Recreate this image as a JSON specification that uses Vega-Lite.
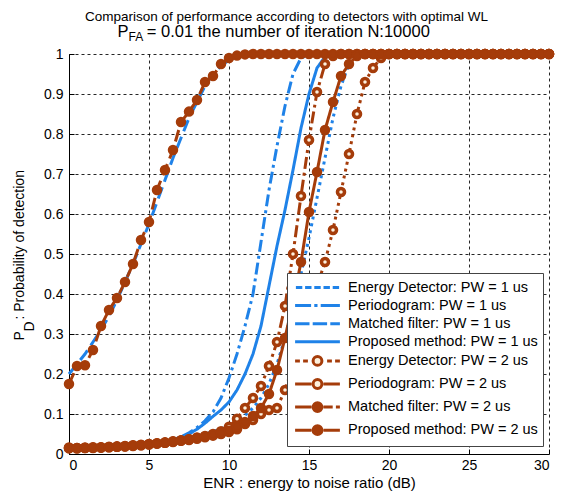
{
 "$schema": "https://vega.github.io/schema/vega-lite/v6.json",
 "width": 480, "height": 400,
 "autosize": {"type": "none"},
 "padding": {"left": 69, "top": 54, "right": 14, "bottom": 41},
 "background": "white",
 "config": {
  "font": "Liberation Sans",
  "view": {"stroke": null},
  "axis": {"domainColor": "#000", "tickColor": "#000", "labelColor": "#000", "titleColor": "#000", "labelFont": "Liberation Sans", "titleFont": "Liberation Sans", "labelFontSize": 14, "titleFontSize": 15, "titleFontWeight": "normal", "grid": true, "gridColor": "#000", "gridDash": [3, 3], "gridWidth": 1, "gridOpacity": 0.85, "tickSize": -5, "domainWidth": 1}
 },
 "title": {"text": "Comparison of performance according to detectors with optimal WL", "anchor": "start", "frame": "group", "dx": 16, "font": "Liberation Sans", "fontSize": 13.5, "fontWeight": "normal", "color": "#000", "offset": 0},
 "resolve": {"axis": {"x": "independent"}},
 "datasets": {"d": [
  {"s":"E1","x":0,"y":0.013},{"s":"E1","x":0.5,"y":0.013},{"s":"E1","x":1,"y":0.014},{"s":"E1","x":1.5,"y":0.014},{"s":"E1","x":2,"y":0.015},{"s":"E1","x":2.5,"y":0.016},{"s":"E1","x":3,"y":0.017},{"s":"E1","x":3.5,"y":0.018},{"s":"E1","x":4,"y":0.019},{"s":"E1","x":4.5,"y":0.021},{"s":"E1","x":5,"y":0.023},{"s":"E1","x":5.5,"y":0.026},{"s":"E1","x":6,"y":0.029},{"s":"E1","x":6.5,"y":0.032},{"s":"E1","x":7,"y":0.035},{"s":"E1","x":7.5,"y":0.039},{"s":"E1","x":8,"y":0.044},{"s":"E1","x":8.5,"y":0.05},{"s":"E1","x":9,"y":0.056},{"s":"E1","x":9.5,"y":0.063},{"s":"E1","x":10,"y":0.072},{"s":"E1","x":10.5,"y":0.083},{"s":"E1","x":11,"y":0.097},{"s":"E1","x":11.5,"y":0.115},{"s":"E1","x":12,"y":0.14},{"s":"E1","x":12.5,"y":0.175},{"s":"E1","x":13,"y":0.225},{"s":"E1","x":13.5,"y":0.29},{"s":"E1","x":14,"y":0.37},{"s":"E1","x":14.5,"y":0.45},{"s":"E1","x":15,"y":0.54},{"s":"E1","x":15.5,"y":0.64},{"s":"E1","x":16,"y":0.74},{"s":"E1","x":16.5,"y":0.84},{"s":"E1","x":17,"y":0.92},{"s":"E1","x":17.5,"y":0.975},{"s":"E1","x":18,"y":0.995},{"s":"E1","x":18.5,"y":1},{"s":"E1","x":30,"y":1},
  {"s":"P1","x":0,"y":0.013},{"s":"P1","x":0.5,"y":0.013},{"s":"P1","x":1,"y":0.014},{"s":"P1","x":1.5,"y":0.014},{"s":"P1","x":2,"y":0.015},{"s":"P1","x":2.5,"y":0.016},{"s":"P1","x":3,"y":0.017},{"s":"P1","x":3.5,"y":0.018},{"s":"P1","x":4,"y":0.019},{"s":"P1","x":4.5,"y":0.021},{"s":"P1","x":5,"y":0.023},{"s":"P1","x":5.5,"y":0.026},{"s":"P1","x":6,"y":0.029},{"s":"P1","x":6.5,"y":0.035},{"s":"P1","x":7,"y":0.043},{"s":"P1","x":7.5,"y":0.053},{"s":"P1","x":8,"y":0.066},{"s":"P1","x":8.5,"y":0.083},{"s":"P1","x":9,"y":0.105},{"s":"P1","x":9.5,"y":0.14},{"s":"P1","x":10,"y":0.19},{"s":"P1","x":10.5,"y":0.25},{"s":"P1","x":11,"y":0.32},{"s":"P1","x":11.5,"y":0.4},{"s":"P1","x":12,"y":0.53},{"s":"P1","x":12.5,"y":0.66},{"s":"P1","x":13,"y":0.77},{"s":"P1","x":13.5,"y":0.87},{"s":"P1","x":14,"y":0.95},{"s":"P1","x":14.5,"y":0.99},{"s":"P1","x":15,"y":0.998},{"s":"P1","x":15.5,"y":1},{"s":"P1","x":30,"y":1},
  {"s":"M1","x":0,"y":0.2},{"s":"M1","x":0.5,"y":0.225},{"s":"M1","x":1,"y":0.25},{"s":"M1","x":1.5,"y":0.28},{"s":"M1","x":2,"y":0.31},{"s":"M1","x":2.5,"y":0.345},{"s":"M1","x":3,"y":0.385},{"s":"M1","x":3.5,"y":0.43},{"s":"M1","x":4,"y":0.475},{"s":"M1","x":4.5,"y":0.525},{"s":"M1","x":5,"y":0.575},{"s":"M1","x":5.5,"y":0.63},{"s":"M1","x":6,"y":0.685},{"s":"M1","x":6.5,"y":0.74},{"s":"M1","x":7,"y":0.79},{"s":"M1","x":7.5,"y":0.84},{"s":"M1","x":8,"y":0.88},{"s":"M1","x":8.5,"y":0.92},{"s":"M1","x":9,"y":0.95},{"s":"M1","x":9.5,"y":0.97},{"s":"M1","x":10,"y":0.985},{"s":"M1","x":10.5,"y":0.993},{"s":"M1","x":11,"y":0.997},{"s":"M1","x":11.5,"y":1},{"s":"M1","x":30,"y":1},
  {"s":"R1","x":0,"y":0.013},{"s":"R1","x":0.5,"y":0.013},{"s":"R1","x":1,"y":0.014},{"s":"R1","x":1.5,"y":0.014},{"s":"R1","x":2,"y":0.015},{"s":"R1","x":2.5,"y":0.016},{"s":"R1","x":3,"y":0.017},{"s":"R1","x":3.5,"y":0.018},{"s":"R1","x":4,"y":0.019},{"s":"R1","x":4.5,"y":0.021},{"s":"R1","x":5,"y":0.023},{"s":"R1","x":5.5,"y":0.026},{"s":"R1","x":6,"y":0.029},{"s":"R1","x":6.5,"y":0.034},{"s":"R1","x":7,"y":0.041},{"s":"R1","x":7.5,"y":0.05},{"s":"R1","x":8,"y":0.062},{"s":"R1","x":8.5,"y":0.077},{"s":"R1","x":9,"y":0.094},{"s":"R1","x":9.5,"y":0.11},{"s":"R1","x":10,"y":0.13},{"s":"R1","x":10.5,"y":0.16},{"s":"R1","x":11,"y":0.2},{"s":"R1","x":11.5,"y":0.25},{"s":"R1","x":12,"y":0.32},{"s":"R1","x":12.5,"y":0.42},{"s":"R1","x":13,"y":0.52},{"s":"R1","x":13.5,"y":0.61},{"s":"R1","x":14,"y":0.71},{"s":"R1","x":14.5,"y":0.815},{"s":"R1","x":15,"y":0.9},{"s":"R1","x":15.5,"y":0.965},{"s":"R1","x":16,"y":0.993},{"s":"R1","x":16.5,"y":1},{"s":"R1","x":30,"y":1},
  {"s":"E2","x":0,"y":0.015},{"s":"E2","x":0.5,"y":0.014},{"s":"E2","x":1,"y":0.016},{"s":"E2","x":1.5,"y":0.015},{"s":"E2","x":2,"y":0.017},{"s":"E2","x":2.5,"y":0.017},{"s":"E2","x":3,"y":0.019},{"s":"E2","x":3.5,"y":0.019},{"s":"E2","x":4,"y":0.021},{"s":"E2","x":4.5,"y":0.022},{"s":"E2","x":5,"y":0.025},{"s":"E2","x":5.5,"y":0.026},{"s":"E2","x":6,"y":0.028},{"s":"E2","x":6.5,"y":0.03},{"s":"E2","x":7,"y":0.033},{"s":"E2","x":7.5,"y":0.035},{"s":"E2","x":8,"y":0.038},{"s":"E2","x":8.5,"y":0.042},{"s":"E2","x":9,"y":0.046},{"s":"E2","x":9.5,"y":0.05},{"s":"E2","x":10,"y":0.055},{"s":"E2","x":10.5,"y":0.062},{"s":"E2","x":11,"y":0.075},{"s":"E2","x":11.5,"y":0.085},{"s":"E2","x":12,"y":0.1},{"s":"E2","x":12.5,"y":0.11},{"s":"E2","x":13,"y":0.115},{"s":"E2","x":13.5,"y":0.16},{"s":"E2","x":14,"y":0.22},{"s":"E2","x":14.5,"y":0.29},{"s":"E2","x":15,"y":0.36},{"s":"E2","x":15.5,"y":0.42},{"s":"E2","x":16,"y":0.48},{"s":"E2","x":16.5,"y":0.56},{"s":"E2","x":17,"y":0.655},{"s":"E2","x":17.5,"y":0.75},{"s":"E2","x":18,"y":0.85},{"s":"E2","x":18.5,"y":0.93},{"s":"E2","x":19,"y":0.965},{"s":"E2","x":19.5,"y":0.99},{"s":"E2","x":20,"y":1},{"s":"E2","x":20.5,"y":1},{"s":"E2","x":21,"y":1},{"s":"E2","x":21.5,"y":1},{"s":"E2","x":22,"y":1},{"s":"E2","x":22.5,"y":1},{"s":"E2","x":23,"y":1},{"s":"E2","x":23.5,"y":1},{"s":"E2","x":24,"y":1},{"s":"E2","x":24.5,"y":1},{"s":"E2","x":25,"y":1},{"s":"E2","x":25.5,"y":1},{"s":"E2","x":26,"y":1},{"s":"E2","x":26.5,"y":1},{"s":"E2","x":27,"y":1},{"s":"E2","x":27.5,"y":1},{"s":"E2","x":28,"y":1},{"s":"E2","x":28.5,"y":1},{"s":"E2","x":29,"y":1},{"s":"E2","x":29.5,"y":1},{"s":"E2","x":30,"y":1},
  {"s":"P2","x":0,"y":0.016},{"s":"P2","x":0.5,"y":0.015},{"s":"P2","x":1,"y":0.015},{"s":"P2","x":1.5,"y":0.017},{"s":"P2","x":2,"y":0.016},{"s":"P2","x":2.5,"y":0.018},{"s":"P2","x":3,"y":0.018},{"s":"P2","x":3.5,"y":0.02},{"s":"P2","x":4,"y":0.022},{"s":"P2","x":4.5,"y":0.023},{"s":"P2","x":5,"y":0.024},{"s":"P2","x":5.5,"y":0.027},{"s":"P2","x":6,"y":0.029},{"s":"P2","x":6.5,"y":0.032},{"s":"P2","x":7,"y":0.034},{"s":"P2","x":7.5,"y":0.037},{"s":"P2","x":8,"y":0.041},{"s":"P2","x":8.5,"y":0.045},{"s":"P2","x":9,"y":0.05},{"s":"P2","x":9.5,"y":0.057},{"s":"P2","x":10,"y":0.068},{"s":"P2","x":10.5,"y":0.088},{"s":"P2","x":11,"y":0.115},{"s":"P2","x":11.5,"y":0.14},{"s":"P2","x":12,"y":0.17},{"s":"P2","x":12.5,"y":0.22},{"s":"P2","x":13,"y":0.28},{"s":"P2","x":13.5,"y":0.37},{"s":"P2","x":14,"y":0.5},{"s":"P2","x":14.5,"y":0.645},{"s":"P2","x":15,"y":0.785},{"s":"P2","x":15.5,"y":0.905},{"s":"P2","x":16,"y":0.975},{"s":"P2","x":16.5,"y":0.995},{"s":"P2","x":17,"y":1},{"s":"P2","x":17.5,"y":1},{"s":"P2","x":18,"y":1},{"s":"P2","x":18.5,"y":1},{"s":"P2","x":19,"y":1},{"s":"P2","x":19.5,"y":1},{"s":"P2","x":20,"y":1},{"s":"P2","x":20.5,"y":1},{"s":"P2","x":21,"y":1},{"s":"P2","x":21.5,"y":1},{"s":"P2","x":22,"y":1},{"s":"P2","x":22.5,"y":1},{"s":"P2","x":23,"y":1},{"s":"P2","x":23.5,"y":1},{"s":"P2","x":24,"y":1},{"s":"P2","x":24.5,"y":1},{"s":"P2","x":25,"y":1},{"s":"P2","x":25.5,"y":1},{"s":"P2","x":26,"y":1},{"s":"P2","x":26.5,"y":1},{"s":"P2","x":27,"y":1},{"s":"P2","x":27.5,"y":1},{"s":"P2","x":28,"y":1},{"s":"P2","x":28.5,"y":1},{"s":"P2","x":29,"y":1},{"s":"P2","x":29.5,"y":1},{"s":"P2","x":30,"y":1},
  {"s":"M2","x":0,"y":0.175},{"s":"M2","x":0.5,"y":0.22},{"s":"M2","x":1,"y":0.222},{"s":"M2","x":1.5,"y":0.26},{"s":"M2","x":2,"y":0.32},{"s":"M2","x":2.5,"y":0.36},{"s":"M2","x":3,"y":0.39},{"s":"M2","x":3.5,"y":0.43},{"s":"M2","x":4,"y":0.475},{"s":"M2","x":4.5,"y":0.535},{"s":"M2","x":5,"y":0.58},{"s":"M2","x":5.5,"y":0.66},{"s":"M2","x":6,"y":0.71},{"s":"M2","x":6.5,"y":0.76},{"s":"M2","x":7,"y":0.83},{"s":"M2","x":7.5,"y":0.856},{"s":"M2","x":8,"y":0.885},{"s":"M2","x":8.5,"y":0.93},{"s":"M2","x":9,"y":0.945},{"s":"M2","x":9.5,"y":0.975},{"s":"M2","x":10,"y":0.99},{"s":"M2","x":10.5,"y":0.996},{"s":"M2","x":11,"y":0.999},{"s":"M2","x":11.5,"y":1},{"s":"M2","x":12,"y":1},{"s":"M2","x":12.5,"y":1},{"s":"M2","x":13,"y":1},{"s":"M2","x":13.5,"y":1},{"s":"M2","x":14,"y":1},{"s":"M2","x":14.5,"y":1},{"s":"M2","x":15,"y":1},{"s":"M2","x":15.5,"y":1},{"s":"M2","x":16,"y":1},{"s":"M2","x":16.5,"y":1},{"s":"M2","x":17,"y":1},{"s":"M2","x":17.5,"y":1},{"s":"M2","x":18,"y":1},{"s":"M2","x":18.5,"y":1},{"s":"M2","x":19,"y":1},{"s":"M2","x":19.5,"y":1},{"s":"M2","x":20,"y":1},{"s":"M2","x":20.5,"y":1},{"s":"M2","x":21,"y":1},{"s":"M2","x":21.5,"y":1},{"s":"M2","x":22,"y":1},{"s":"M2","x":22.5,"y":1},{"s":"M2","x":23,"y":1},{"s":"M2","x":23.5,"y":1},{"s":"M2","x":24,"y":1},{"s":"M2","x":24.5,"y":1},{"s":"M2","x":25,"y":1},{"s":"M2","x":25.5,"y":1},{"s":"M2","x":26,"y":1},{"s":"M2","x":26.5,"y":1},{"s":"M2","x":27,"y":1},{"s":"M2","x":27.5,"y":1},{"s":"M2","x":28,"y":1},{"s":"M2","x":28.5,"y":1},{"s":"M2","x":29,"y":1},{"s":"M2","x":29.5,"y":1},{"s":"M2","x":30,"y":1},
  {"s":"R2","x":0,"y":0.014},{"s":"R2","x":0.5,"y":0.015},{"s":"R2","x":1,"y":0.015},{"s":"R2","x":1.5,"y":0.016},{"s":"R2","x":2,"y":0.016},{"s":"R2","x":2.5,"y":0.017},{"s":"R2","x":3,"y":0.018},{"s":"R2","x":3.5,"y":0.019},{"s":"R2","x":4,"y":0.02},{"s":"R2","x":4.5,"y":0.022},{"s":"R2","x":5,"y":0.024},{"s":"R2","x":5.5,"y":0.026},{"s":"R2","x":6,"y":0.028},{"s":"R2","x":6.5,"y":0.031},{"s":"R2","x":7,"y":0.034},{"s":"R2","x":7.5,"y":0.037},{"s":"R2","x":8,"y":0.04},{"s":"R2","x":8.5,"y":0.044},{"s":"R2","x":9,"y":0.048},{"s":"R2","x":9.5,"y":0.052},{"s":"R2","x":10,"y":0.058},{"s":"R2","x":10.5,"y":0.068},{"s":"R2","x":11,"y":0.08},{"s":"R2","x":11.5,"y":0.095},{"s":"R2","x":12,"y":0.115},{"s":"R2","x":12.5,"y":0.15},{"s":"R2","x":13,"y":0.21},{"s":"R2","x":13.5,"y":0.29},{"s":"R2","x":14,"y":0.38},{"s":"R2","x":14.5,"y":0.48},{"s":"R2","x":15,"y":0.605},{"s":"R2","x":15.5,"y":0.705},{"s":"R2","x":16,"y":0.81},{"s":"R2","x":16.5,"y":0.88},{"s":"R2","x":17,"y":0.945},{"s":"R2","x":17.5,"y":0.975},{"s":"R2","x":18,"y":0.995},{"s":"R2","x":18.5,"y":1},{"s":"R2","x":19,"y":1},{"s":"R2","x":19.5,"y":1},{"s":"R2","x":20,"y":1},{"s":"R2","x":20.5,"y":1},{"s":"R2","x":21,"y":1},{"s":"R2","x":21.5,"y":1},{"s":"R2","x":22,"y":1},{"s":"R2","x":22.5,"y":1},{"s":"R2","x":23,"y":1},{"s":"R2","x":23.5,"y":1},{"s":"R2","x":24,"y":1},{"s":"R2","x":24.5,"y":1},{"s":"R2","x":25,"y":1},{"s":"R2","x":25.5,"y":1},{"s":"R2","x":26,"y":1},{"s":"R2","x":26.5,"y":1},{"s":"R2","x":27,"y":1},{"s":"R2","x":27.5,"y":1},{"s":"R2","x":28,"y":1},{"s":"R2","x":28.5,"y":1},{"s":"R2","x":29,"y":1},{"s":"R2","x":29.5,"y":1},{"s":"R2","x":30,"y":1}
 ]},
 "data": {"name": "d"},
 "encoding": {
  "x": {"field": "x", "type": "quantitative", "scale": {"domain": [0, 30], "nice": false}, "axis": {"values": [0, 5, 10, 15, 20, 25, 30], "title": "ENR : energy to noise ratio (dB)", "labelPadding": 9, "titlePadding": 3}},
  "y": {"field": "y", "type": "quantitative", "scale": {"domain": [0, 1], "nice": false}, "axis": {"values": [0, 0.1, 0.2, 0.3, 0.4, 0.5, 0.6, 0.7, 0.8, 0.9, 1], "format": ".1~f", "labelPadding": 11, "titleFontSize": 14, "title": ["P\u00a0\u00a0\u00a0: Probability of detection", "\u200b\u00a0\u00a0\u200aD"], "titleLineHeight": 10, "titleX": -45.5, "titleY": 286, "titleAngle": -90, "titleAlign": "left", "titleBaseline": "alphabetic"}}
 },
 "layer": [
  {"transform": [{"filter": {"field": "s", "oneOf": ["E1", "P1", "M1", "R1"]}}],
   "mark": {"type": "line", "strokeWidth": 3, "strokeCap": "butt"},
   "encoding": {
    "color": {"field": "s", "type": "nominal", "scale": {"domain": ["E1", "E2", "M1", "M2", "P1", "P2", "R1", "R2"], "range": ["#1f82e8", "#a53c0a", "#1f82e8", "#a53c0a", "#1f82e8", "#a53c0a", "#1f82e8", "#a53c0a"]}, "legend": null},
    "strokeDash": {"field": "s", "type": "nominal", "scale": {"domain": ["E1", "E2", "M1", "M2", "P1", "P2", "R1", "R2"], "range": [[3, 4], [3, 4], [12, 6], [12, 6], [12, 4, 3, 4], [12, 4, 3, 4], [1, 0], [1, 0]]}, "legend": null}
   }},
  {"transform": [{"filter": {"field": "s", "oneOf": ["E2", "P2", "M2", "R2"]}}],
   "mark": {"type": "line", "strokeWidth": 3, "strokeCap": "butt"},
   "encoding": {
    "x": {"field": "x", "type": "quantitative", "axis": {"orient": "top", "grid": false, "domain": false, "ticks": false, "labels": false, "title": "P\u00a0\u00a0\u00a0\u00a0= 0.01 the number of iteration N:10000", "titleFontSize": 16.5, "titleX": 48, "titleY": -18, "titleAlign": "left", "titleBaseline": "alphabetic", "titleAngle": 0}},
    "color": {"field": "s", "type": "nominal", "legend": null},
    "strokeDash": {"field": "s", "type": "nominal", "legend": null}
   }},
  {"transform": [{"filter": {"field": "s", "oneOf": ["E2", "P2"]}}],
   "mark": {"type": "point", "shape": "circle", "size": 50, "filled": true, "fill": "#fdf1dd", "stroke": "#a53c0a", "strokeWidth": 3.5, "opacity": 1},
   "encoding": {"x": {"field": "x", "type": "quantitative", "axis": null}}},
  {"transform": [{"filter": {"field": "s", "oneOf": ["M2", "R2"]}}],
   "mark": {"type": "point", "shape": "circle", "size": 72, "filled": true, "fill": "#a53c0a", "stroke": "#a53c0a", "strokeWidth": 2, "opacity": 1},
   "encoding": {"x": {"field": "x", "type": "quantitative", "axis": null}}},
  {"mark": {"type": "point", "strokeWidth": 3, "opacity": 0},
   "encoding": {
    "x": {"field": "x", "type": "quantitative", "axis": {"orient": "top", "grid": false, "domain": false, "ticks": false, "labels": false, "title": "FA", "titleFontSize": 12, "titleX": 59, "titleY": -14, "titleAlign": "left", "titleBaseline": "alphabetic", "titleAngle": 0}},
    "shape": {"field": "s", "type": "nominal", "scale": {"domain": ["E1", "P1", "M1", "R1", "E2", "P2", "M2", "R2"], "range": [
      "M-2.7,0H-1.9M-1.55,0H-0.75M-0.4,0H0.4M0.75,0H1.55M1.9,0H2.7",
      "M-2.8,0H-0.8M-0.4,0H0M0.4,0H2.8",
      "M-2.8,0H-1M-0.6,0H1.2M1.6,0H2.8",
      "M-2.8,0H2.8",
      "M-2.8,0H-2.2M-1.8,0H-1.2M1.2,0H1.8M2.2,0H2.8M0.55,0A0.55,0.55,0,1,1,-0.55,0A0.55,0.55,0,1,1,0.55,0Z",
      "M-2.8,0H-0.75M0.75,0H2.8M0.55,0A0.55,0.55,0,1,1,-0.55,0A0.55,0.55,0,1,1,0.55,0Z",
      "M-2.8,0H-0.75M0.75,0H1.9M2.3,0H2.8M0.55,0A0.55,0.55,0,1,1,-0.55,0A0.55,0.55,0,1,1,0.55,0Z",
      "M-2.8,0H-0.75M0.75,0H2.8M0.55,0A0.55,0.55,0,1,1,-0.55,0A0.55,0.55,0,1,1,0.55,0Z"]},
     "legend": {"title": null, "orient": "none", "legendX": 218, "legendY": 219, "fillColor": "white", "strokeColor": "#444", "padding": 5, "symbolSize": 256, "symbolStrokeWidth": 3, "symbolOpacity": 1, "symbolOffset": 16, "labelOffset": 21, "labelFont": "Liberation Sans", "labelFontSize": 14.5, "labelColor": "#000", "rowPadding": 2.1, "labelLimit": 400,
      "labelExpr": "{'E1':'Energy Detector: PW = 1 us','P1':'Periodogram: PW = 1 us','M1':'Matched filter: PW = 1 us','R1':'Proposed method: PW = 1 us','E2':'Energy Detector: PW = 2 us','P2':'Periodogram: PW = 2 us','M2':'Matched filter: PW = 2 us','R2':'Proposed method: PW = 2 us'}[datum.label]"}},
    "stroke": {"field": "s", "type": "nominal", "scale": {"domain": ["E1", "P1", "M1", "R1", "E2", "P2", "M2", "R2"], "range": ["#1f82e8", "#1f82e8", "#1f82e8", "#1f82e8", "#a53c0a", "#a53c0a", "#a53c0a", "#a53c0a"]}},
    "fill": {"field": "s", "type": "nominal", "scale": {"domain": ["E1", "P1", "M1", "R1", "E2", "P2", "M2", "R2"], "range": ["#1f82e8", "#1f82e8", "#1f82e8", "#1f82e8", "#fdf1dd", "#fdf1dd", "#a53c0a", "#a53c0a"]}}
   }}
 ]
}
